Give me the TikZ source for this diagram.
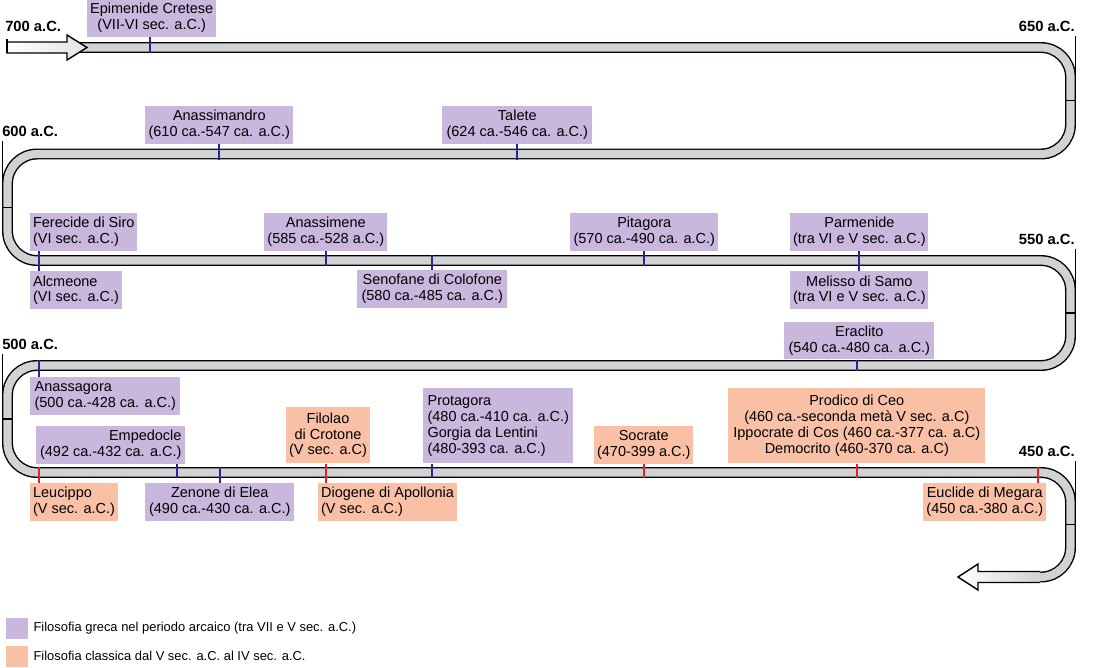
\documentclass[tikz,border=0pt]{standalone}
\usepackage{fontspec}
\setmainfont{Liberation Sans}
\usepackage{tikz}
\usetikzlibrary{positioning}

\definecolor{arcaic}{RGB}{201,183,222}
\definecolor{classic}{RGB}{249,192,166}
\definecolor{tickblue}{RGB}{38,38,150}
\definecolor{tickred}{RGB}{228,32,40}
\definecolor{trackgray}{RGB}{209,210,211}

\tikzset{
    philbox/.style={rectangle,anchor=north west,inner xsep=2pt,inner ysep=1pt,minimum height=0.94cm,align=center,font=\fontsize{10.3}{11.3}\selectfont},
    arcaicbox/.style={philbox,fill=arcaic},
    classicbox/.style={philbox,fill=classic},
    bluetick/.style={draw=tickblue,line width=1.4pt},
    redtick/.style={draw=tickred,line width=1.4pt},
    datelabel/.style={inner sep=0pt,font=\bfseries\fontsize{10.5}{12}\selectfont},
    datetick/.style={draw=black,line width=1pt},
    track/.style={line width=1pt,double=trackgray,double distance=5.8pt,rounded corners=0.74cm},
    legbox/.style={rectangle,minimum width=0.55cm,minimum height=0.53cm,inner sep=0pt},
    legtext/.style={inner sep=0pt,font=\fontsize{9.2}{11}\selectfont}
}

\begin{document}
\begin{tikzpicture}[x=0.025cm,y=-0.025cm]
\useasboundingbox (0,0) rectangle (1100,667);
\fill[white] (0,0) rectangle (1100,667);

% the winding band
\draw[track] (76,47.5) -- (1070.5,47.5) -- (1070.5,154) -- (7.5,154) -- (7.5,260.5)
    -- (1070.5,260.5) -- (1070.5,365.5) -- (7.5,365.5) -- (7.5,472.5)
    -- (1070.5,472.5) -- (1070.5,577) -- (975,577);

% start and end arrows
\shade[left color=white,right color=trackgray!60] (7,42) -- (67,42) -- (67,35) -- (87,47.5) -- (67,60) -- (67,53) -- (7,53) -- cycle;
\draw[datetick] (7,42) -- (67,42) -- (67,35) -- (87,47.5) -- (67,60) -- (67,53) -- (7,53) -- cycle;
\shade[left color=white,right color=trackgray] (1040,571.5) -- (978,571.5) -- (978,564) -- (958,577) -- (978,590) -- (978,582.5) -- (1040,582.5) -- cycle;
\draw[datetick] (1040,571.5) -- (978,571.5) -- (978,564) -- (958,577) -- (978,590) -- (978,582.5) -- (1040,582.5);

% dates
\node[datelabel,anchor=south west] (d700) at (5,32) {700 a.C.};
\node[datelabel,anchor=south east] (d650) at (1075,32) {650 a.C.};
\node[datelabel,anchor=south west] (d600) at (2,137) {600 a.C.};
\node[datelabel,anchor=south east] (d550) at (1075,245) {550 a.C.};
\node[datelabel,anchor=south west] (d500) at (2,350) {500 a.C.};
\node[datelabel,anchor=south east] (d450) at (1075,457) {450 a.C.};

\coordinate (m700) at (7,53);
\coordinate (m650) at (1075.3,100.75);
\coordinate (m650i) at (1065,100.75);
\coordinate (m600) at (2.7,207.25);
\coordinate (m600i) at (13,207.25);
\coordinate (m550) at (1075.3,313);
\coordinate (m550i) at (1065,313);
\coordinate (m500) at (2.7,419);
\coordinate (m500i) at (13,419);
\coordinate (m450) at (1075.3,524.75);
\coordinate (m450i) at (1065,524.75);

\draw[datetick,shorten <=5pt] (m700 |- d700.south) -- (m700);
\draw[datetick,shorten <=3pt] (m650 |- d650.south) -- (m650) -- (m650i);
\draw[datetick,shorten <=3pt] (m600 |- d600.south) -- (m600) -- (m600i);
\draw[datetick,shorten <=3pt] (m550 |- d550.south) -- (m550) -- (m550i);
\draw[datetick,shorten <=3pt] (m500 |- d500.south) -- (m500) -- (m500i);
\draw[datetick,shorten <=3pt] (m450 |- d450.south) -- (m450) -- (m450i);

% philosophers
\node[arcaicbox,minimum width=3.15cm] (epimenide) at (87,-1) {Epimenide Cretese\\(VII-VI sec. a.C.)};
\node[arcaicbox,minimum width=3.7cm] (anassimandro) at (145,106) {Anassimandro\\(610 ca.-547 ca. a.C.)};
\node[arcaicbox,minimum width=3.75cm] (talete) at (442,106) {Talete\\(624 ca.-546 ca. a.C.)};
\node[arcaicbox,minimum width=2.675cm,align=left] (ferecide) at (30,213) {Ferecide di Siro\\(VI sec. a.C.)};
\node[arcaicbox,minimum width=2.2cm,align=left,below=0.5cm of ferecide.south west,anchor=north west] (alcmeone) {Alcmeone\\(VI sec. a.C.)};
\node[arcaicbox,minimum width=3.075cm] (anassimene) at (264,213) {Anassimene\\(585 ca.-528 a.C.)};
\node[arcaicbox,minimum width=3.75cm] (senofane) at (357,270) {Senofane di Colofone\\(580 ca.-485 ca. a.C.)};
\node[arcaicbox,minimum width=3.7cm] (pitagora) at (570,213) {Pitagora\\(570 ca.-490 ca. a.C.)};
\node[arcaicbox,minimum width=3.35cm] (parmenide) at (790,213) {Parmenide\\(tra VI e V sec. a.C.)};
\node[arcaicbox,minimum width=3.35cm,below=0.5cm of parmenide] (melisso) {Melisso di Samo\\(tra VI e V sec. a.C.)};
\node[arcaicbox,minimum width=3.75cm,below=0.3cm of melisso] (eraclito) {Eraclito\\(540 ca.-480 ca. a.C.)};
\node[arcaicbox,minimum width=3.75cm,align=left] (anassagora) at (30,377) {Anassagora\\(500 ca.-428 ca. a.C.)};
\node[arcaicbox,minimum width=3.725cm,align=right] (empedocle) at (36,426) {Empedocle\\(492 ca.-432 ca. a.C.)};
\node[classicbox,minimum width=2.175cm,align=left] (leucippo) at (30,483) {Leucippo\\(V sec. a.C.)};
\node[arcaicbox,minimum width=3.725cm] (zenone) at (145,483) {Zenone di Elea\\(490 ca.-430 ca. a.C.)};
\node[classicbox,minimum width=1.975cm,minimum height=1.4cm] (filolao) at (286,407) {Filolao\\di Crotone\\(V sec. a.C)};
\node[classicbox,minimum width=3.45cm,align=left] (diogene) at (318,483) {Diogene di Apollonia\\(V sec. a.C.)};
\node[arcaicbox,minimum width=3.75cm,minimum height=1.875cm,align=left] (protagora) at (423,388) {Protagora\\(480 ca.-410 ca. a.C.)\\Gorgia da Lentini\\(480-393 ca. a.C.)};
\node[classicbox,minimum width=2.45cm] (socrate) at (594,426) {Socrate\\(470-399 a.C.)};
\node[classicbox,minimum width=6.425cm,minimum height=1.875cm] (prodico) at (728,388) {Prodico di Ceo\\(460 ca.-seconda metà V sec. a.C)\\Ippocrate di Cos (460 ca.-377 ca. a.C)\\Democrito (460-370 ca. a.C)};
\node[classicbox,minimum width=3.075cm] (euclide) at (923,483) {Euclide di Megara\\(450 ca.-380 a.C.)};

% ticks on the band
\coordinate (t-epimenide) at (150,53);
\coordinate (t-anassimandro) at (219,159.5);
\coordinate (t-talete) at (517,159.5);
\coordinate (t-ferecide) at (39,260.5);
\coordinate (t-anassimene) at (326,266);
\coordinate (t-senofane) at (432,255);
\coordinate (t-pitagora) at (644,266);
\coordinate (t-parmenide) at (857,260.5);
\coordinate (t-eraclito) at (857,371);
\coordinate (t-anassagora) at (39,360);
\coordinate (t-empedocle) at (177,478);
\coordinate (t-leucippo) at (39,467);
\coordinate (t-zenone) at (220,467);
\coordinate (t-filolao) at (326,472.5);
\coordinate (t-protagora) at (432,478);
\coordinate (t-socrate) at (644,478);
\coordinate (t-prodico) at (857,478);
\coordinate (t-euclide) at (1038,467);

\draw[bluetick] (epimenide.south -| t-epimenide) -- (t-epimenide);
\draw[bluetick] (anassimandro.south -| t-anassimandro) -- (t-anassimandro);
\draw[bluetick] (talete.south -| t-talete) -- (t-talete);
\draw[bluetick] (ferecide.south -| t-ferecide) -- (alcmeone.north -| t-ferecide);
\draw[bluetick] (anassimene.south -| t-anassimene) -- (t-anassimene);
\draw[bluetick] (t-senofane) -- (senofane.north -| t-senofane);
\draw[bluetick] (pitagora.south -| t-pitagora) -- (t-pitagora);
\draw[bluetick] (parmenide.south) -- (melisso.north);
\draw[bluetick] (eraclito.south -| t-eraclito) -- (t-eraclito);
\draw[bluetick] (t-anassagora) -- (anassagora.north -| t-anassagora);
\draw[bluetick] (empedocle.south -| t-empedocle) -- (t-empedocle);
\draw[redtick] (t-leucippo) -- (leucippo.north -| t-leucippo);
\draw[bluetick] (t-zenone) -- (zenone.north -| t-zenone);
\draw[redtick] (filolao.south -| t-filolao) -- (diogene.north -| t-filolao);
\draw[bluetick] (protagora.south -| t-protagora) -- (t-protagora);
\draw[redtick] (socrate.south -| t-socrate) -- (t-socrate);
\draw[redtick] (prodico.south -| t-prodico) -- (t-prodico);
\draw[redtick] (t-euclide) -- (euclide.north -| t-euclide);

% legend
\node[legbox,fill=arcaic] (leg1) at (17,628.5) {};
\node[legtext,right=0.125cm of leg1] (legtxt1) {Filosofia greca nel periodo arcaico (tra VII e V sec. a.C.)};
\node[legbox,fill=classic,below=0.15cm of leg1] (leg2) {};
\node[legtext,right=0.125cm of leg2] (legtxt2) {Filosofia classica dal V sec. a.C. al IV sec. a.C.};
\end{tikzpicture}
\end{document}
